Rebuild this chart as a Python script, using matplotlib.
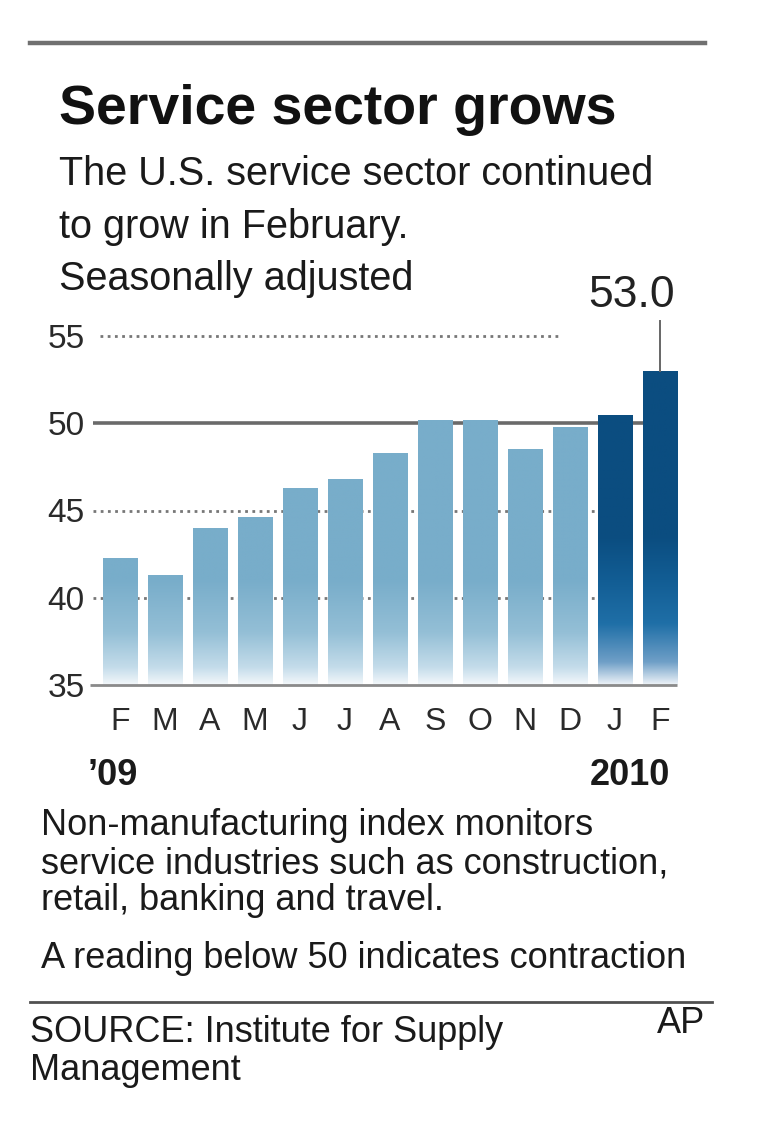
import matplotlib
matplotlib.use('Agg')
import matplotlib.pyplot as plt
from matplotlib.lines import Line2D
from matplotlib.colors import to_rgb
import numpy as np

# Data: ISM non-manufacturing index, Feb 2009 - Feb 2010
months = ['F', 'M', 'A', 'M', 'J', 'J', 'A', 'S', 'O', 'N', 'D', 'J', 'F']
values = [42.3, 41.3, 44.0, 44.6, 46.3, 46.8, 48.3, 50.2, 50.2, 48.5, 49.8, 50.5, 53.0]
years = [2009] * 11 + [2010] * 2
yticks = [35, 40, 45, 50, 55]
year_labels = ['\u201909', '2010']

W, H = 760, 1130
BODY = ['Liberation Sans', 'DejaVu Sans']
NARROW = ['Liberation Sans Narrow', 'Liberation Sans', 'DejaVu Sans']
plt.rcParams['font.family'] = BODY

fig = plt.figure(figsize=(W / 100, H / 100), dpi=100)
fig.patch.set_facecolor('white')


def fx(px):
    return px / W


def fy(py):
    return 1 - py / H


def ftext(x, y, s, **kw):
    kw.setdefault('va', 'baseline')
    kw.setdefault('color', '#1a1a1a')
    fig.text(fx(x), fy(y), s, **kw)


# top and bottom rules
fig.add_artist(Line2D([fx(30), fx(705)], [fy(43), fy(43)], color='#707070', lw=3.2))
fig.add_artist(Line2D([fx(30), fx(712)], [fy(1002), fy(1002)], color='#505050', lw=2))

# headline + chatter
ftext(59, 124, 'Service sector grows', fontsize=40, fontweight='bold',
      family=NARROW, color='#111111')
ftext(59, 185, 'The U.S. service sector continued', fontsize=28.5)
ftext(59, 238, 'to grow in February.', fontsize=28.5)
ftext(59, 290, 'Seasonally adjusted', fontsize=28.5)

# chart axes
left, right, bottom, top = 90, 677, 685, 336
ax = fig.add_axes([fx(left), fy(bottom), fx(right - left), fy(top) - fy(bottom)])
x = np.arange(len(values))
xlim = (-0.667, 12.38)
ylim = (35, 55)

# gridlines (behind bars)
ax.hlines(50, -0.6, 11.62, color='#6a6a6a', lw=2.6, zorder=1)
ax.hlines(55, -0.44, 9.8, color='#777777', lw=2, linestyle=(0, (1, 1.6)), zorder=1, clip_on=False)
for lev in (45, 40):
    ax.hlines(lev, -0.6, 10.55, color='#777777', lw=2, linestyle=(0, (1, 1.6)), zorder=1)

# bars with vertical fade to white near the baseline
light_stops = ([35, 36.0, 38.0, 41.0], ['#f4f8fb', '#c4dcea', '#94bfd6', '#78adca'])
dark_stops = ([35, 36.3, 38.5, 41.0, 43.5], ['#eef3f8', '#6f9fc7', '#1f6fa7', '#125d94', '#0b4d80'])

bars = ax.bar(x, [v - 35 for v in values], bottom=35, width=0.76,
              facecolor='none', edgecolor='none', zorder=2)
for rect, v, yr in zip(bars, values, years):
    stops, cols = dark_stops if yr == 2010 else light_stops
    cols = np.array([to_rgb(c) for c in cols])
    yy = np.linspace(35, v, 300)
    img = np.stack([np.interp(yy, stops, cols[:, k]) for k in range(3)], axis=-1)[:, None, :]
    x0 = rect.get_x()
    im = ax.imshow(img, extent=(x0, x0 + rect.get_width(), 35, v), origin='lower',
                   aspect='auto', interpolation='bilinear', zorder=2)
    im.set_clip_path(rect)

# baseline
ax.hlines(35, xlim[0], xlim[1], color='#8a8a8a', lw=2, zorder=3, clip_on=False)

ax.set_xlim(*xlim)
ax.set_ylim(*ylim)
for s in ax.spines.values():
    s.set_visible(False)
ax.set_facecolor('none')

ax.set_yticks(yticks)
ax.set_yticklabels([str(t) for t in yticks], fontsize=24, color='#2a2a2a')
ax.set_xticks(x)
ax.set_xticklabels(months, fontsize=23, color='#2a2a2a')
ax.tick_params(axis='y', length=0, pad=4)
ax.tick_params(axis='x', length=0, pad=16)

# callout for latest value
ax.plot([x[-1], x[-1]], [values[-1], 55.86], color='#666666', lw=1.4, zorder=4, clip_on=False)
ax.text(12.33, 56.67, f'{values[-1]:.1f}', fontsize=32, ha='right', va='baseline',
        color='#222222', clip_on=False)

# year labels
ftext(88, 785, year_labels[0], fontsize=26, fontweight='bold')
ftext(670, 785, year_labels[1], fontsize=26, fontweight='bold', ha='right')

# notes
ftext(41, 835, 'Non-manufacturing index monitors', fontsize=26)
ftext(41, 873, 'service industries such as construction,', fontsize=26)
ftext(41, 910, 'retail, banking and travel.', fontsize=26)
ftext(41, 968, 'A reading below 50 indicates contraction', fontsize=26)

ftext(30, 1042, 'SOURCE: Institute for Supply', fontsize=26)
ftext(30, 1080, 'Management', fontsize=26)
ftext(705, 1033, 'AP', fontsize=26, ha='right')

fig.savefig('out.png', dpi=100, facecolor='white')
